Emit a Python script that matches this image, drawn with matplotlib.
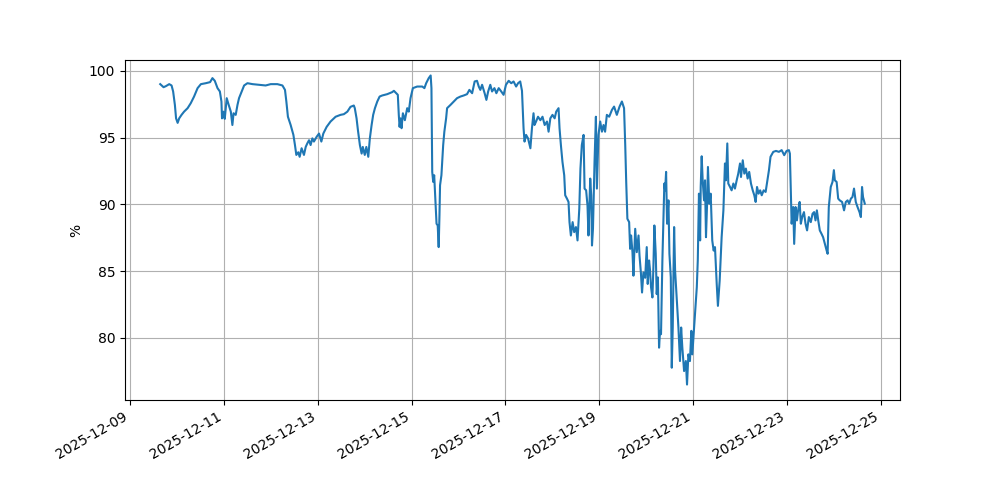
import numpy as np
import pandas as pd
import matplotlib
matplotlib.use("Agg")
import matplotlib.pyplot as plt

start = "2025-12-09 00:00"

# hours since start, value in %
hours = [15.5, 17.2, 18.4, 20.1, 21.3, 22.1, 23.0, 23.6, 24.4, 25.2, 26.4, 27.7, 29.5, 31.1,
         32.8, 34.6, 36.3, 38.8, 41.0, 42.2, 43.4, 44.8, 46.0, 46.8, 47.1, 47.8, 48.5, 49.5,
         50.4, 51.6, 52.4, 53.0, 54.1, 55.0, 55.8, 57.2, 58.4, 60.1, 62.7, 66.0, 69.4, 72.0,
         75.4, 78.0, 79.3, 80.0, 80.8, 82.2, 83.6, 84.4, 85.1, 86.1, 86.8, 87.8, 89.0, 89.9,
         90.7, 91.6, 92.4, 93.3, 94.1, 95.5, 96.7, 97.9, 98.9, 100.6, 102.6, 105.2, 107.7,
         109.4, 111.2, 112.8, 114.5, 115.0, 115.9, 116.6, 117.6, 118.5, 119.1, 120.1, 120.9,
         121.9, 122.7, 123.6, 124.4, 125.3, 126.5, 127.7, 129.0, 131.6, 134.1, 135.0, 136.2,
         137.0, 137.5, 137.9, 138.4, 138.9, 139.6, 140.6, 141.8, 142.6, 143.5, 144.7, 146.9,
         149.5, 150.6, 151.5, 152.8, 153.8, 154.2, 154.6, 155.1, 155.6, 156.2, 156.8, 157.4,
         157.9, 158.3, 158.6, 159.3, 160.2, 160.8, 161.7, 162.2, 163.9, 165.6, 167.3, 169.0,
         170.7, 172.4, 173.6, 175.0, 176.3, 177.5, 178.4, 179.2, 180.1, 181.4, 182.3, 183.2,
         184.3, 185.2, 186.4, 187.4, 188.6, 189.9, 191.1, 192.3, 193.7, 195.0, 196.2, 197.5,
         198.5, 199.6, 200.5, 201.3, 201.8, 202.6, 203.6, 204.8, 205.6, 206.4, 206.9, 207.7,
         208.7, 209.9, 211.0, 212.1, 213.3, 214.1, 215.0, 216.1, 217.2, 218.0, 219.2, 219.7,
         220.4, 221.2, 222.1, 222.6, 223.5, 224.3, 224.8, 225.5, 226.4, 227.2, 228.1, 228.9,
         229.8, 230.4, 231.1, 232.0, 232.5, 233.3, 234.0, 234.5, 235.4, 235.9, 236.3, 236.8,
         237.6, 238.3, 238.8, 239.6, 240.5, 241.4, 242.2, 243.0, 243.9, 245.1, 246.5, 247.6,
         249.0, 250.4, 251.6, 252.7, 253.3, 253.8, 254.4, 255.3, 255.8, 256.3, 257.0, 257.5,
         258.4, 259.2, 260.1, 260.6, 261.3, 261.9, 262.6, 263.5, 264.3, 264.8, 265.5, 266.0,
         266.5, 267.2, 267.7, 268.2, 268.9, 269.4, 270.0, 270.6, 271.1, 271.6, 272.3, 272.8,
         273.3, 273.7, 274.2, 274.7, 275.4, 275.9, 276.6, 277.1, 277.6, 278.3, 278.8, 279.7,
         280.5, 281.3, 281.9, 282.5, 283.4, 284.3, 284.9, 285.6, 286.4, 287.1, 287.6, 288.3,
         289.0, 289.9, 290.4, 291.0, 291.6, 291.9, 292.4, 292.9, 293.6, 294.1, 294.6, 295.1,
         295.6, 296.3, 297.0, 297.8, 298.5, 299.2, 300.1, 300.7, 301.6, 302.6, 303.5, 304.3,
         304.8, 305.5, 306.0, 306.9, 307.7, 308.6, 309.4, 310.3, 311.1, 312.0, 312.5, 313.4,
         314.2, 315.0, 315.9, 316.7, 317.6, 318.5, 319.3, 320.0, 320.7, 321.5, 322.3, 323.1,
         324.1, 325.1, 325.9, 326.8, 327.6, 329.0, 330.4, 331.9, 333.3, 334.6, 335.8, 337.0,
         337.5, 338.4, 339.2, 339.7, 340.4, 341.1, 341.7, 342.5, 343.1, 343.8, 344.7, 345.5,
         346.3, 347.2, 348.2, 349.1, 349.9, 350.6, 351.3, 352.0, 352.8, 353.7, 354.5, 355.4,
         356.3, 356.8, 357.4, 358.4, 359.3, 360.0, 360.5, 361.4, 362.2, 363.0, 364.2, 365.2,
         366.1, 367.0, 367.8, 368.7, 369.5, 370.3, 371.2, 372.1, 373.1, 373.8, 374.4, 374.9,
         375.8]

pct = [99.0, 98.77, 98.85, 99.0, 98.9, 98.45, 97.44, 96.44, 96.1, 96.44, 96.7, 96.94, 97.2, 97.57,
       98.07, 98.7, 99.0, 99.07, 99.15, 99.45, 99.25, 98.7, 98.45, 97.7, 96.44, 96.94, 96.4, 97.95,
       97.5, 96.94, 95.94, 96.82, 96.7, 97.44, 97.95, 98.45, 98.9, 99.07, 99.0, 98.95, 98.9, 99.0,
       99.0, 98.9, 98.57, 97.7, 96.56, 95.94, 95.2, 94.44, 93.7, 93.9, 93.56, 94.2, 93.7, 94.3,
       94.56, 94.8, 94.44, 94.94, 94.7, 95.06, 95.3, 94.7, 95.3, 95.8, 96.2, 96.56, 96.7,
       96.75, 96.94, 97.3, 97.4, 97.2, 96.44, 95.56, 94.44, 93.8, 94.3, 93.7, 94.3,
       93.56, 94.94, 95.94, 96.7, 97.2, 97.7, 98.07, 98.15, 98.25, 98.4, 98.5, 98.32,
       98.2, 96.7, 95.8, 96.44, 95.7, 96.82, 96.3, 97.2, 96.94, 97.95, 98.7, 98.82,
       98.82, 98.7, 99.07, 99.45, 99.65, 98.7, 92.43, 91.68, 92.18, 90.43, 88.55, 88.42,
       86.8, 89.17, 91.43, 92.18, 94.44, 95.44, 96.44, 97.2, 97.44, 97.7, 97.95, 98.07,
       98.15, 98.25, 98.57, 98.32, 99.2, 99.25, 98.82, 98.57, 98.95, 98.32, 97.82, 98.45,
       98.95, 98.45, 98.7, 98.32, 98.7, 98.45, 98.2, 98.95, 99.25, 99.07, 99.2, 98.82,
       99.07, 99.2, 98.5, 95.7, 94.7, 95.2, 94.94, 94.2, 95.7, 96.82, 95.94, 96.2,
       96.56, 96.3, 96.56, 95.94, 96.2, 95.44, 96.44, 96.7, 96.44, 96.94, 97.2, 95.7,
       94.44, 93.18, 92.18, 90.68, 90.43, 90.18, 88.67, 87.67, 88.67, 87.92, 88.3, 87.3,
       89.67, 92.68, 94.44, 95.2, 91.18, 91.05, 89.92, 87.67, 91.93, 90.68, 86.92, 88.17,
       93.18, 96.56, 91.18, 95.2, 96.2, 95.44, 95.94, 95.44, 96.7, 96.56, 97.07, 97.32,
       96.7, 97.32, 97.7, 97.2, 94.44, 91.68, 88.92, 88.67, 86.67, 87.67, 86.42, 84.66,
       88.17, 86.42, 87.67, 86.17, 84.9, 83.4, 84.9, 84.5, 86.8, 84.04, 85.8, 85.04,
       83.8, 83.03, 85.3, 88.42, 86.3, 83.28, 84.53, 79.27, 80.53, 80.28, 85.8, 88.8,
       91.56, 91.05, 92.43, 88.55, 90.3, 86.3, 84.53, 77.77, 80.78, 88.3, 85.04, 82.78,
       80.78, 78.27, 80.78, 79.27, 77.52, 78.27, 76.51, 78.77, 78.27, 80.53, 78.77, 80.28,
       81.78, 83.8, 85.8, 90.8, 87.3, 91.3, 93.6, 91.8, 90.3, 91.8, 87.54, 89.8,
       92.8, 90.05, 90.8, 87.3, 86.54, 86.8, 84.0, 82.4, 84.3, 87.54, 89.55, 93.06,
       91.8, 94.56, 91.56, 91.3, 91.05, 91.56, 91.18, 91.8, 92.3, 93.06, 92.05, 93.3,
       92.3, 92.68, 91.93, 92.43, 91.56, 91.05, 90.68, 90.18, 91.3, 90.8, 91.05, 90.68,
       91.05, 90.93, 91.68, 92.56, 93.56, 93.93, 94.0, 93.93, 94.06, 93.68, 94.0, 94.06,
       93.8, 88.55, 89.8, 87.04, 89.8, 88.8, 89.55, 90.18, 88.55, 89.05, 89.42, 88.55,
       88.05, 89.05, 88.67, 89.3, 89.42, 88.8, 89.55, 88.8, 88.05, 87.79, 87.54, 87.04,
       86.54, 86.3, 89.8, 91.3, 91.68, 92.56, 91.8, 91.68, 90.43, 90.3, 90.18, 89.55,
       90.18, 90.3, 90.05, 90.43, 90.55, 91.18, 90.18, 89.8, 89.42, 89.05, 91.3, 90.55,
       90.05]

times = pd.Timestamp(start) + pd.to_timedelta(np.array(hours), unit="h")

fig, ax = plt.subplots(figsize=(10, 5), dpi=100)
ax.plot(times, pct)
ax.set_ylabel("%")
ax.grid(True)
fig.autofmt_xdate()
fig.savefig("out.png")
